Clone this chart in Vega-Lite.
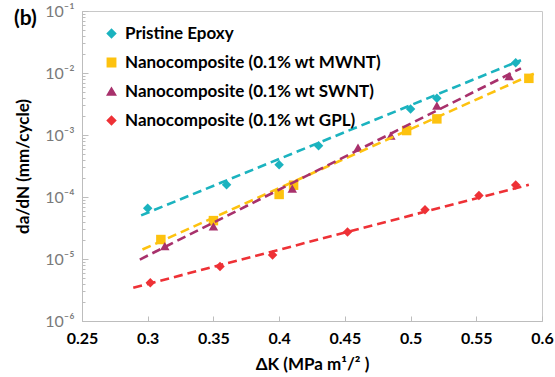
{
  "$schema": "https://vega.github.io/schema/vega-lite/v6.json",
  "width": 460,
  "height": 310,
  "autosize": {"type": "none"},
  "padding": {"left": 82, "top": 11, "right": 13, "bottom": 56},
  "background": "white",
  "config": {
    "font": "Lato",
    "view": {"stroke": "#c8c8c8", "strokeWidth": 1}
  },
  "title": {
    "text": "(b)",
    "anchor": "start",
    "frame": "group",
    "orient": "top",
    "fontSize": 21,
    "fontWeight": "bold",
    "color": "black",
    "font": "Lato",
    "baseline": "top",
    "offset": -3,
    "dx": -68,
    "dy": 23
  },
  "datasets": {
    "points": [
      {"series": "Pristine Epoxy", "dK": 0.30, "dadN": 0.000066},
      {"series": "Pristine Epoxy", "dK": 0.36, "dadN": 0.000158},
      {"series": "Pristine Epoxy", "dK": 0.40, "dadN": 0.00033},
      {"series": "Pristine Epoxy", "dK": 0.43, "dadN": 0.00067},
      {"series": "Pristine Epoxy", "dK": 0.50, "dadN": 0.00263},
      {"series": "Pristine Epoxy", "dK": 0.52, "dadN": 0.0039},
      {"series": "Pristine Epoxy", "dK": 0.58, "dadN": 0.0146},
      {"series": "Nanocomposite (0.1% wt MWNT)", "dK": 0.31, "dadN": 0.0000206},
      {"series": "Nanocomposite (0.1% wt MWNT)", "dK": 0.35, "dadN": 0.0000416},
      {"series": "Nanocomposite (0.1% wt MWNT)", "dK": 0.40, "dadN": 0.00011},
      {"series": "Nanocomposite (0.1% wt MWNT)", "dK": 0.411, "dadN": 0.000155},
      {"series": "Nanocomposite (0.1% wt MWNT)", "dK": 0.497, "dadN": 0.00118},
      {"series": "Nanocomposite (0.1% wt MWNT)", "dK": 0.52, "dadN": 0.00182},
      {"series": "Nanocomposite (0.1% wt MWNT)", "dK": 0.59, "dadN": 0.0082},
      {"series": "Nanocomposite (0.1% wt SWNT)", "dK": 0.313, "dadN": 0.0000161},
      {"series": "Nanocomposite (0.1% wt SWNT)", "dK": 0.35, "dadN": 0.0000337},
      {"series": "Nanocomposite (0.1% wt SWNT)", "dK": 0.41, "dadN": 0.000136},
      {"series": "Nanocomposite (0.1% wt SWNT)", "dK": 0.46, "dadN": 0.000625},
      {"series": "Nanocomposite (0.1% wt SWNT)", "dK": 0.485, "dadN": 0.00098},
      {"series": "Nanocomposite (0.1% wt SWNT)", "dK": 0.52, "dadN": 0.00297},
      {"series": "Nanocomposite (0.1% wt SWNT)", "dK": 0.575, "dadN": 0.0089},
      {"series": "Nanocomposite (0.1% wt GPL)", "dK": 0.302, "dadN": 0.00000414},
      {"series": "Nanocomposite (0.1% wt GPL)", "dK": 0.355, "dadN": 0.00000757},
      {"series": "Nanocomposite (0.1% wt GPL)", "dK": 0.395, "dadN": 0.0000116},
      {"series": "Nanocomposite (0.1% wt GPL)", "dK": 0.452, "dadN": 0.0000272},
      {"series": "Nanocomposite (0.1% wt GPL)", "dK": 0.511, "dadN": 0.0000625},
      {"series": "Nanocomposite (0.1% wt GPL)", "dK": 0.552, "dadN": 0.000106},
      {"series": "Nanocomposite (0.1% wt GPL)", "dK": 0.58, "dadN": 0.000156}
    ],
    "fits": [
      {"series": "Pristine Epoxy", "dK": 0.295, "dadN": 0.0000506},
      {"series": "Pristine Epoxy", "dK": 0.584, "dadN": 0.0161},
      {"series": "Nanocomposite (0.1% wt MWNT)", "dK": 0.296, "dadN": 0.0000142},
      {"series": "Nanocomposite (0.1% wt MWNT)", "dK": 0.595, "dadN": 0.010},
      {"series": "Nanocomposite (0.1% wt SWNT)", "dK": 0.294, "dadN": 0.0000098},
      {"series": "Nanocomposite (0.1% wt SWNT)", "dK": 0.584, "dadN": 0.0119},
      {"series": "Nanocomposite (0.1% wt GPL)", "dK": 0.289, "dadN": 0.00000344},
      {"series": "Nanocomposite (0.1% wt GPL)", "dK": 0.590, "dadN": 0.000158}
    ]
  },
  "encoding": {
    "x": {
      "field": "dK",
      "type": "quantitative",
      "scale": {"domain": [0.25, 0.6], "nice": false, "zero": false},
      "axis": {
        "values": [0.25, 0.3, 0.35, 0.4, 0.45, 0.5, 0.55, 0.6],
        "format": "~g",
        "grid": false,
        "domainColor": "#bdbdbd",
        "tickColor": "#bdbdbd",
        "tickSize": -5,
        "labelPadding": 14,
        "labelFont": "Lato",
        "labelFontSize": 16,
        "labelFontWeight": "bold",
        "labelColor": "black",
        "labelFlush": false,
        "title": "ΔK (MPa m¹/² )",
        "titleFont": "Lato",
        "titleFontSize": 17,
        "titleFontWeight": "bold",
        "titleColor": "black",
        "titlePadding": 10
      }
    },
    "y": {
      "field": "dadN",
      "type": "quantitative",
      "scale": {"type": "log", "domain": [0.000001, 0.1], "nice": false},
      "axis": {
        "values": [0.000001, 0.000002, 0.000003, 0.000004, 0.000005, 0.000006, 0.000007, 0.000008, 0.000009,
                   0.00001, 0.00002, 0.00003, 0.00004, 0.00005, 0.00006, 0.00007, 0.00008, 0.00009,
                   0.0001, 0.0002, 0.0003, 0.0004, 0.0005, 0.0006, 0.0007, 0.0008, 0.0009,
                   0.001, 0.002, 0.003, 0.004, 0.005, 0.006, 0.007, 0.008, 0.009,
                   0.01, 0.02, 0.03, 0.04, 0.05, 0.06, 0.07, 0.08, 0.09, 0.1],
        "labelExpr": "abs(log(datum.value)/LN10 - round(log(datum.value)/LN10)) < 1e-6 ? '10' + ['⁻⁶','⁻⁵','⁻⁴','⁻³','⁻²','⁻¹'][round(log(datum.value)/LN10) + 6] : ''",
        "grid": false,
        "domainColor": "#bdbdbd",
        "tickColor": "#bdbdbd",
        "tickSize": {"condition": {"test": "abs(log(datum.value)/LN10 - round(log(datum.value)/LN10)) < 1e-6", "value": -6}, "value": -3},
        "labelPadding": 14,
        "labelFont": "Lato",
        "labelFontSize": 16,
        "labelColor": "#7a7a7a",
        "labelOverlap": false,
        "labelFlush": false,
        "title": "da/dN (mm/cycle)",
        "titleFont": "Lato",
        "titleFontSize": 17,
        "titleFontWeight": "bold",
        "titleColor": "black",
        "titlePadding": 12
      }
    },
    "color": {
      "field": "series",
      "type": "nominal",
      "scale": {
        "domain": ["Pristine Epoxy", "Nanocomposite (0.1% wt MWNT)", "Nanocomposite (0.1% wt SWNT)", "Nanocomposite (0.1% wt GPL)"],
        "range": ["#1bb3bf", "#fdc20f", "#a8316c", "#ee3136"]
      },
      "legend": {
        "orient": "none",
        "legendX": 21,
        "legendY": 14,
        "title": null,
        "padding": 0,
        "labelFont": "Lato",
        "labelFontSize": 17,
        "labelFontWeight": "bold",
        "labelColor": "black",
        "labelLimit": 400,
        "symbolSize": 70,
        "symbolType": "diamond",
        "rowPadding": 11,
        "labelOffset": 5
      }
    }
  },
  "layer": [
    {
      "data": {"name": "points"},
      "mark": {"type": "point", "filled": true, "opacity": 1, "size": 90},
      "encoding": {
        "shape": {
          "field": "series",
          "type": "nominal",
          "scale": {
            "domain": ["Pristine Epoxy", "Nanocomposite (0.1% wt MWNT)", "Nanocomposite (0.1% wt SWNT)", "Nanocomposite (0.1% wt GPL)"],
            "range": ["diamond", "square", "triangle-up", "diamond"]
          },
          "legend": {
            "orient": "none",
            "legendX": 21,
            "legendY": 14,
            "title": null,
            "padding": 0,
            "labelFont": "Lato",
            "labelFontSize": 17,
            "labelFontWeight": "bold",
            "labelColor": "black",
            "labelLimit": 400,
            "symbolSize": 70,
            "rowPadding": 11,
            "labelOffset": 5
          }
        }
      }
    },
    {
      "data": {"name": "fits"},
      "mark": {"type": "line", "strokeDash": [9, 5], "strokeWidth": 2.6}
    }
  ]
}
